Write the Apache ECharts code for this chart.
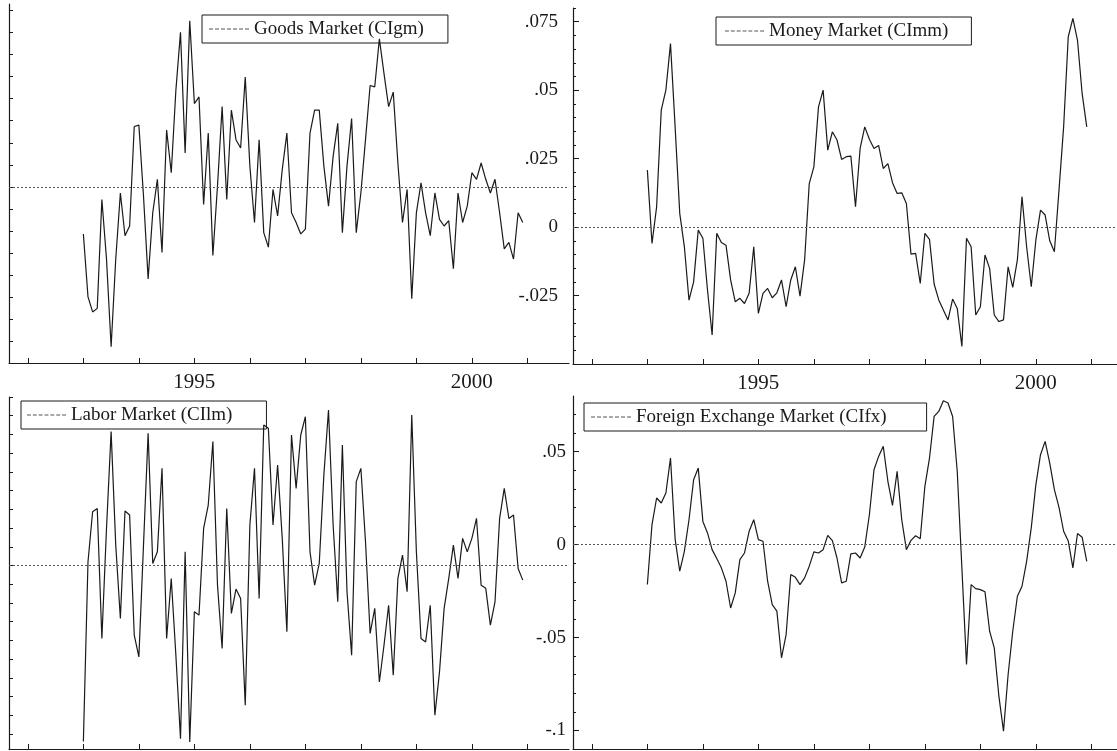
<!DOCTYPE html>
<html>
<head>
<meta charset="utf-8">
<title>Market condition indices</title>
<script src="https://cdn.jsdelivr.net/npm/echarts@6/dist/echarts.min.js"></script>
<style>
  html, body { margin: 0; padding: 0; background: #fff; }
  #chart { width: 1117px; height: 751px; }
</style>
</head>
<body>
<div id="chart"></div>
<script>
// monthly observations starting 1993:1
var startYear = 1993;

var goodsMarket = [
  -0.0107, -0.0250, -0.0284, -0.0276, -0.0029, -0.0164, -0.0363, -0.0164, -0.0014, -0.0111, -0.0089, 0.0137,
  0.0140, -0.0021, -0.0209, -0.0059, 0.0017, -0.0149, 0.0129, 0.0032, 0.0219, 0.0351, 0.0077, 0.0377,
  0.0189, 0.0204, -0.0040, 0.0122, -0.0156, 0.0002, 0.0182, -0.0029, 0.0174, 0.0107, 0.0088, 0.0249,
  0.0047, -0.0081, 0.0107, -0.0104, -0.0137, -0.0006, -0.0066, 0.0039, 0.0122, -0.0059, -0.0081, -0.0107,
  -0.0096, 0.0122, 0.0174, 0.0174, 0.0047, -0.0044, 0.0069, 0.0144, -0.0104, 0.0047, 0.0155, -0.0104,
  -0.0014, 0.0107, 0.0230, 0.0227, 0.0336, 0.0257, 0.0182, 0.0215, 0.0054, -0.0081, -0.0006, -0.0254,
  -0.0059, 0.0009, -0.0059, -0.0111, -0.0014, -0.0074, -0.0089, -0.0077, -0.0186, -0.0014, -0.0081, -0.0044,
  0.0032, 0.0017, 0.0054, 0.0017, -0.0014, 0.0017, -0.0059, -0.0141, -0.0126, -0.0164, -0.0059, -0.0081
];

var moneyMarket = [
  0.0208, -0.0060, 0.0074, 0.0427, 0.0500, 0.0670, 0.0366, 0.0050, -0.0072, -0.0267, -0.0200, -0.0011,
  -0.0041, -0.0230, -0.0394, -0.0023, -0.0056, -0.0066, -0.0193, -0.0273, -0.0260, -0.0279, -0.0242, -0.0072,
  -0.0315, -0.0242, -0.0224, -0.0258, -0.0240, -0.0193, -0.0291, -0.0193, -0.0145, -0.0252, -0.0120, 0.0159,
  0.0220, 0.0439, 0.0500, 0.0281, 0.0348, 0.0318, 0.0247, 0.0257, 0.0259, 0.0074, 0.0287, 0.0366,
  0.0321, 0.0287, 0.0298, 0.0214, 0.0232, 0.0162, 0.0123, 0.0125, 0.0086, -0.0099, -0.0096, -0.0206,
  -0.0023, -0.0045, -0.0208, -0.0266, -0.0303, -0.0339, -0.0263, -0.0297, -0.0436, -0.0041, -0.0072, -0.0321,
  -0.0291, -0.0102, -0.0151, -0.0321, -0.0345, -0.0339, -0.0145, -0.0220, -0.0120, 0.0111, -0.0072, -0.0218,
  -0.0047, 0.0062, 0.0044, -0.0050, -0.0090, 0.0135, 0.0366, 0.0695, 0.0762, 0.0682, 0.0488, 0.0366
];

var laborMarket = [
  -0.0940, 0.0020, 0.0287, 0.0305, -0.0390, 0.0198, 0.0715, 0.0109, -0.0283, 0.0291, 0.0270, -0.0372,
  -0.0488, 0.0109, 0.0706, 0.0011, 0.0073, 0.0519, -0.0390, -0.0069, -0.0479, -0.0925, 0.0073, -0.0943,
  -0.0247, -0.0265, 0.0198, 0.0323, 0.0662, -0.0105, -0.0443, 0.0305, -0.0256, -0.0126, -0.0176, -0.0746,
  0.0216, 0.0519, -0.0176, 0.0751, 0.0733, 0.0216, 0.0537, 0.0145, -0.0354, 0.0697, 0.0412, 0.0697,
  0.0795, 0.0073, -0.0105, 0.0011, 0.0484, 0.0831, 0.0216, -0.0194, 0.0644, -0.0140, -0.0479, 0.0448,
  0.0519, 0.0127, -0.0363, -0.0229, -0.0622, -0.0426, -0.0212, -0.0586, -0.0069, 0.0056, -0.0140, 0.0804,
  0.0073, -0.0390, -0.0408, -0.0212, -0.0800, -0.0568, -0.0229, -0.0069, 0.0109, -0.0069, 0.0145, 0.0073,
  0.0145, 0.0252, -0.0105, -0.0122, -0.0319, -0.0194, 0.0252, 0.0412, 0.0251, 0.0270, -0.0016, -0.0078
];

var fxMarket = [
  -0.0215, 0.0108, 0.0251, 0.0224, 0.0278, 0.0466, 0.0030, -0.0143, -0.0036, 0.0134, 0.0349, 0.0412,
  0.0125, 0.0063, -0.0027, -0.0075, -0.0125, -0.0197, -0.0341, -0.0260, -0.0081, -0.0045, 0.0072, 0.0134,
  0.0027, 0.0018, -0.0197, -0.0323, -0.0358, -0.0609, -0.0484, -0.0161, -0.0176, -0.0215, -0.0179, -0.0116,
  -0.0039, -0.0045, -0.0027, 0.0050, 0.0022, -0.0072, -0.0206, -0.0197, -0.0050, -0.0045, -0.0072, -0.0013,
  0.0161, 0.0403, 0.0475, 0.0529, 0.0341, 0.0211, 0.0394, 0.0134, -0.0027, 0.0023, 0.0048, 0.0032,
  0.0314, 0.0466, 0.0690, 0.0717, 0.0774, 0.0762, 0.0690, 0.0394, -0.0125, -0.0645, -0.0215, -0.0237,
  -0.0242, -0.0254, -0.0466, -0.0556, -0.0815, -0.1004, -0.0699, -0.0466, -0.0278, -0.0224, -0.0090, 0.0090,
  0.0323, 0.0484, 0.0556, 0.0439, 0.0296, 0.0201, 0.0072, 0.0020, -0.0125, 0.0060, 0.0040, -0.0090
];

var seriesNames = ['Goods Market (CIgm)', 'Money Market (CImm)', 'Labor Market (CIlm)', 'Foreign Exchange Market (CIfx)'];

// axis ticks and labels
var yearTicks = [1992, 1993, 1994, 1995, 1996, 1997, 1998, 1999, 2000, 2001];
var yearLabels = [1995, 2000];
var moneyLabels = [-0.025, 0, 0.025, 0.05, 0.075];
var fxLabels = [-0.1, -0.05, 0, 0.05];

var FONT = "'Liberation Serif', 'DejaVu Serif', serif";
var INK = '#1a1a1a';

function steps(from, to, step) {
  var out = [];
  for (var v = from; v <= to + 1e-9; v += step) out.push(Math.round(v * 1000) / 1000);
  return out;
}
function minorOnly(all, major) {
  return all.filter(function(v) {
    return !major.some(function(m) { return Math.abs(m - v) < 1e-6; });
  });
}
function fmt(v) {
  return String(+(+v).toFixed(3)).replace(/^(-?)0\./, '$1.');
}
function toSeries(values) {
  return values.map(function(v, i) { return [startYear + i / 12, v]; });
}

var goodsTicks = steps(-0.035, 0.04, 0.005);
var laborTicks = steps(-0.09, 0.09, 0.01);
var moneyMinor = minorOnly(steps(-0.045, 0.08, 0.005), moneyLabels);
var fxMinor = minorOnly(steps(-0.1, 0.07, 0.01), fxLabels);

var grids = [
  {left: 9, top: 4, width: 560, height: 359},
  {left: 573, top: 8, width: 560, height: 356},
  {left: 9, top: 397, width: 560, height: 352},
  {left: 573, top: 396, width: 560, height: 353}
];

function xAxis(i, showLabels) {
  return {
    type: 'value', gridIndex: i, min: 1991.66, max: 2001.75, position: 'bottom',
    axisLine: {onZero: false, lineStyle: {color: INK, width: 1.2}},
    axisTick: {inside: true, length: 5, customValues: yearTicks, lineStyle: {color: INK}},
    axisLabel: {show: showLabels, customValues: yearLabels, margin: 9,
      fontFamily: FONT, fontSize: 21, color: INK, formatter: function(v) { return String(v); }},
    splitLine: {show: false}
  };
}

function yAxis(i, min, max, tickVals, labelVals, labelMargin, tickLen, withLine) {
  return {
    type: 'value', gridIndex: i, min: min, max: max, position: 'left',
    axisLine: {show: withLine, onZero: false, lineStyle: {color: INK, width: 1.2}},
    axisTick: {show: true, inside: true, length: tickLen, customValues: tickVals, lineStyle: {color: INK}},
    axisLabel: {show: !!labelVals, customValues: labelVals || [], margin: labelMargin,
      fontFamily: FONT, fontSize: 19, color: INK, formatter: fmt},
    splitLine: {show: false}
  };
}

var xAxes = [xAxis(0, true), xAxis(1, true), xAxis(2, false), xAxis(3, false)];
var yAxes = [
  yAxis(0, -0.04, 0.0415, goodsTicks, null, 8, 4, true),
  yAxis(1, -0.05, 0.08, moneyLabels, moneyLabels, 15, 6, true),
  yAxis(2, -0.098, 0.09, laborTicks, null, 8, 4, true),
  yAxis(3, -0.11, 0.08, fxLabels, fxLabels, 7, 6, true),
  // minor ticks for the two labelled axes
  yAxis(1, -0.05, 0.08, moneyMinor, null, 8, 3, false),
  yAxis(3, -0.11, 0.08, fxMinor, null, 8, 3, false)
];

var allData = [goodsMarket, moneyMarket, laborMarket, fxMarket];
var series = allData.map(function(values, i) {
  return {
    name: seriesNames[i], type: 'line', xAxisIndex: i, yAxisIndex: i,
    data: toSeries(values), showSymbol: false, symbol: 'none',
    lineStyle: {color: INK, width: 1.2}, itemStyle: {color: INK},
    markLine: {
      silent: true, symbol: 'none', label: {show: false},
      lineStyle: {color: '#555', type: [2, 2], width: 1},
      data: [{yAxis: 0}]
    }
  };
});

var dashIcon = 'path://M0 0h4v1H0z M6 0h4v1H6z M12 0h4v1h-4z M18 0h4v1h-4z M24 0h4v1h-4z M30 0h4v1h-4z M36 0h4v1h-4z';
var legendBoxes = [
  {left: 202, top: 15, itemWidth: 40, padding: [4, 24, 4, 7]},
  {left: 716, top: 17, itemWidth: 39, padding: [4, 23, 4, 9]},
  {left: 21, top: 401, itemWidth: 39, padding: [4, 34, 4, 6]},
  {left: 584, top: 403, itemWidth: 40, padding: [4, 40, 4, 7]}
];
var legends = legendBoxes.map(function(b, i) {
  return {
    data: [seriesNames[i]], left: b.left, top: b.top, padding: b.padding,
    itemWidth: b.itemWidth, itemHeight: 1.2, icon: dashIcon, selectedMode: false,
    borderColor: INK, borderWidth: 1, backgroundColor: 'transparent',
    itemStyle: {color: '#555'},
    textStyle: {fontFamily: FONT, fontSize: 19, color: INK, lineHeight: 20}
  };
});

var chart = echarts.init(document.getElementById('chart'), null, {renderer: 'canvas'});
chart.setOption({
  backgroundColor: '#fff',
  animation: false,
  grid: grids.map(function(g) { g.outerBoundsMode = 'none'; return g; }),
  xAxis: xAxes,
  yAxis: yAxes,
  legend: legends,
  series: series
});
</script>
</body>
</html>
